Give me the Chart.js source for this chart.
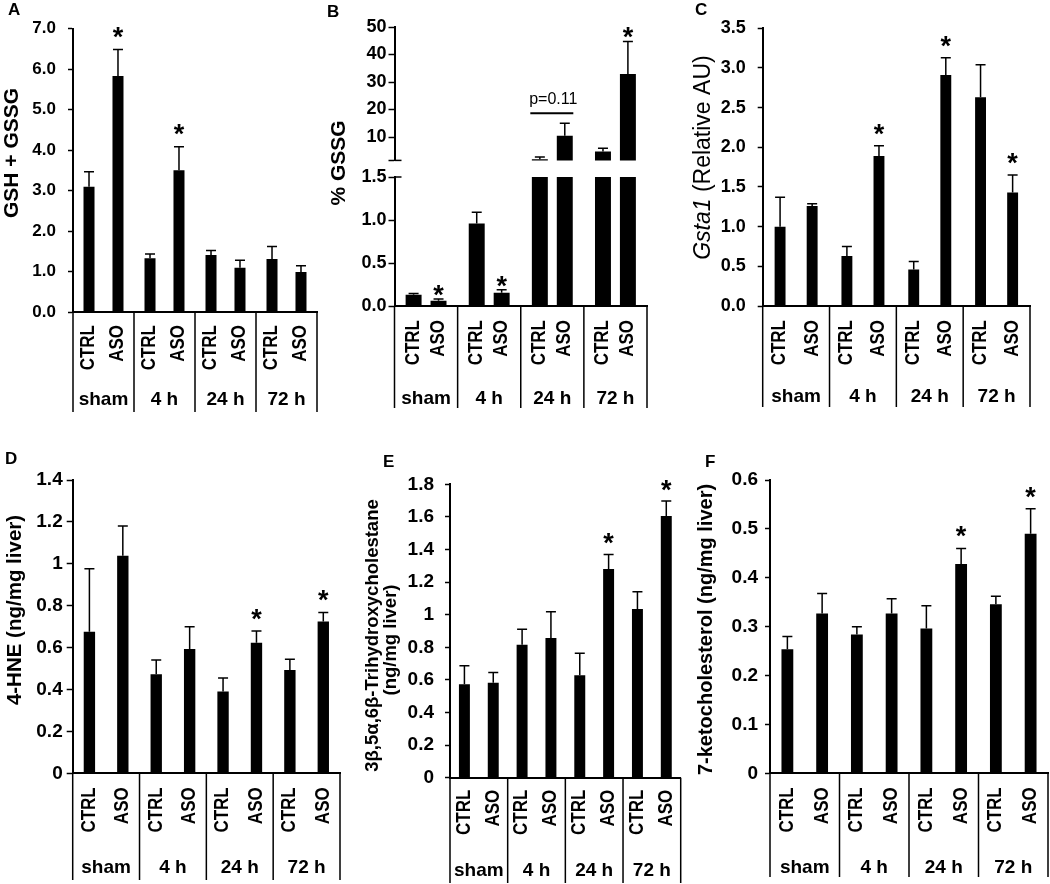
<!DOCTYPE html>
<html>
<head>
<meta charset="utf-8">
<script src="https://cdn.jsdelivr.net/npm/chart.js@4.4.1/dist/chart.umd.min.js"></script>
<style>
html,body{margin:0;padding:0;background:#fff;}
#fig{position:relative;width:1050px;height:884px;overflow:hidden;background:#fff;}
canvas{position:absolute;}
.lbl{position:absolute;z-index:5;font:bold 17px 'Liberation Sans', Arial, sans-serif;line-height:17px;color:#000;}
</style>
</head>
<body>
<div id="fig">
  <canvas id="cA" width="340" height="420" style="left:0px;top:0px"></canvas>
  <canvas id="cBhi" width="340" height="420" style="left:320px;top:0px"></canvas>
  <canvas id="cBlo" width="340" height="260" style="left:320px;top:160px"></canvas>
  <canvas id="cC" width="360" height="420" style="left:690px;top:0px"></canvas>
  <canvas id="cD" width="350" height="444" style="left:0px;top:440px"></canvas>
  <canvas id="cE" width="355" height="444" style="left:340px;top:440px"></canvas>
  <canvas id="cF" width="360" height="444" style="left:690px;top:440px"></canvas>
  <div class="lbl" style="left:8px;top:1px">A</div>
  <div class="lbl" style="left:327px;top:3px">B</div>
  <div class="lbl" style="left:695px;top:1px">C</div>
  <div class="lbl" style="left:5px;top:450px">D</div>
  <div class="lbl" style="left:383px;top:453px">E</div>
  <div class="lbl" style="left:705px;top:453px">F</div>
</div>
<script>
// ---------- data ----------
const groups = ['sham', '4 h', '24 h', '72 h'];
const treatments = ['CTRL', 'ASO'];

// A: GSH + GSSG
const aCtrl    = [3.09, 1.33, 1.41, 1.31];
const aCtrlErr = [0.37, 0.10, 0.11, 0.31];
const aAso     = [5.83, 3.50, 1.09, 0.99];
const aAsoErr  = [0.65, 0.58, 0.19, 0.15];
const aAsoStar = [true, true, false, false];
const aTicks   = [0, 1, 2, 3, 4, 5, 6, 7];

// B: % GSSG (broken axis)
const bCtrl    = [0.13, 0.96, 1.9, 4.7];
const bCtrlErr = [0.015, 0.13, 0.8, 1.2];
const bAso     = [0.06, 0.155, 10.5, 32.9];
const bAsoErr  = [0.02, 0.035, 4.5, 11.8];
const bAsoStar = [true, true, false, true];
const bLowTicks  = [0, 0.5, 1.0, 1.5];
const bHighTicks = [1.5, 10, 20, 30, 40, 50];
const bBreak = 1.5;
const bPText = 'p=0.11';
const bPLevel = 18.6;
const bPGroup = 2;

// C: Gsta1 (Relative AU)
const cCtrl    = [1.00, 0.63, 0.46, 2.63];
const cCtrlErr = [0.37, 0.12, 0.10, 0.41];
const cAso     = [1.26, 1.89, 2.91, 1.43];
const cAsoErr  = [0.03, 0.13, 0.22, 0.22];
const cAsoStar = [false, true, true, true];
const cTicks   = [0, 0.5, 1.0, 1.5, 2.0, 2.5, 3.0, 3.5];

// D: 4-HNE (ng/mg liver)
const dCtrl    = [0.676, 0.473, 0.39, 0.493];
const dCtrlErr = [0.30, 0.068, 0.065, 0.051];
const dAso     = [1.039, 0.593, 0.623, 0.724];
const dAsoErr  = [0.141, 0.107, 0.056, 0.044];
const dAsoStar = [false, false, true, true];
const dTicks   = [0, 0.2, 0.4, 0.6, 0.8, 1.0, 1.2, 1.4];

// E: 3β,5α,6β-Trihydroxycholestane (ng/mg liver)
const eCtrl    = [0.573, 0.816, 0.628, 1.035];
const eCtrlErr = [0.114, 0.094, 0.135, 0.106];
const eAso     = [0.583, 0.857, 1.28, 1.605];
const eAsoErr  = [0.063, 0.161, 0.09, 0.092];
const eAsoStar = [false, false, true, true];
const eTicks   = [0, 0.2, 0.4, 0.6, 0.8, 1.0, 1.2, 1.4, 1.6, 1.8];

// F: 7-ketocholesterol (ng/mg liver)
const fCtrl    = [0.254, 0.284, 0.296, 0.346];
const fCtrlErr = [0.026, 0.016, 0.047, 0.016];
const fAso     = [0.327, 0.327, 0.428, 0.49];
const fAsoErr  = [0.041, 0.030, 0.032, 0.051];
const fAsoStar = [false, false, true, true];
const fTicks   = [0, 0.1, 0.2, 0.3, 0.4, 0.5, 0.6];

// ---------- drawing ----------
const FONT = "'Liberation Sans', Arial, Helvetica, sans-serif";
Chart.defaults.font.family = FONT;
const CAP = 10;
const STAR_FONT = "bold 27px " + FONT;
const fmt1 = v => Number(v).toFixed(1);
const fmtTrim = v => String(parseFloat(Number(v).toFixed(2)));
const fmtInt = v => String(Math.round(v));

function rotText(c, text, x, y, font, align, thick) {
  c.save();
  c.translate(x, y);
  c.rotate(-Math.PI / 2);
  if (thick) c.scale(1, thick);
  c.font = font;
  c.textAlign = align || 'center';
  c.textBaseline = 'middle';
  c.fillText(text, 0, 0);
  c.restore();
}

function makeChart(id, p) {
  const el = document.getElementById(id);
  const vals = [p.ctrl, p.aso];
  const errs = [p.ctrlErr, p.asoErr];
  const stars = [groups.map(() => false), p.asoStar];
  const extra = {
    id: 'extra_' + id,
    afterDatasetsDraw(chart) {
      const c = chart.ctx, ys = chart.scales.y, xs = chart.scales.x, ca = chart.chartArea;
      c.save();
      c.strokeStyle = '#000'; c.fillStyle = '#000'; c.lineWidth = 1.5;
      for (let d = 0; d < 2; d++) {
        const meta = chart.getDatasetMeta(d);
        meta.data.forEach((bar, i) => {
          const v = vals[d][i];
          if (v <= ys.min || v > ys.max) return;
          const top = v + errs[d][i];
          const x = bar.x, y0 = ys.getPixelForValue(v), y1 = ys.getPixelForValue(top);
          c.beginPath();
          c.moveTo(x, y0); c.lineTo(x, y1);
          c.moveTo(x - CAP / 2, y1); c.lineTo(x + CAP / 2, y1);
          c.stroke();
          if (stars[d][i]) {
            c.font = STAR_FONT; c.textAlign = 'center'; c.textBaseline = 'alphabetic';
            const m = c.measureText('*');
            c.fillText('*', x, y1 - p.starGap - m.actualBoundingBoxDescent);
          }
        });
      }
      if (p.xHeight) {
        for (let d = 0; d < 2; d++) {
          chart.getDatasetMeta(d).data.forEach(bar => {
            rotText(c, treatments[d], bar.x, ca.bottom + p.catOffset, 'bold ' + p.catSize + 'px ' + FONT, 'right', 1.15);
          });
        }
        c.font = 'bold ' + p.grpSize + 'px ' + FONT;
        c.textAlign = 'center'; c.textBaseline = 'middle';
        groups.forEach((g, i) => c.fillText(g, xs.getPixelForValue(i), p.grpY));
        const step = (ca.right - ca.left) / groups.length;
        c.lineWidth = 1.5;
        c.beginPath();
        for (let i = 0; i <= groups.length; i++) {
          const x = ca.left + i * step;
          c.moveTo(x, ca.bottom); c.lineTo(x, p.boxBottom);
        }
        c.stroke();
      }
      if (p.extraDraw) p.extraDraw(c, chart);
      if (p.title) p.title(c, chart);
      c.restore();
    }
  };
  return new Chart(el, {
    type: 'bar',
    data: {
      labels: groups,
      datasets: [
        { label: treatments[0], data: p.ctrl, backgroundColor: '#000', borderWidth: 0,
          categoryPercentage: p.catPct, barPercentage: p.barPct },
        { label: treatments[1], data: p.aso, backgroundColor: '#000', borderWidth: 0,
          categoryPercentage: p.catPct, barPercentage: p.barPct }
      ]
    },
    options: {
      responsive: false, animation: false, devicePixelRatio: 1,
      layout: { padding: { left: 0, right: p.padRight, top: p.padTop, bottom: p.padBottom || 0 } },
      plugins: { legend: { display: false }, tooltip: { enabled: false } },
      scales: {
        x: {
          display: p.xHeight ? true : false,
          grid: { display: false, drawTicks: false },
          ticks: { display: false },
          border: { display: true, color: '#000', width: 2 },
          afterFit: s => { s.height = p.xHeight || 0; }
        },
        y: {
          min: p.min, max: p.max,
          afterBuildTicks: s => { s.ticks = p.ticks.map(v => ({ value: v })); },
          afterFit: s => { s.width = p.yWidth; },
          grid: { display: true, drawOnChartArea: false, drawTicks: true, tickLength: p.tickLen,
                  tickWidth: 1.5, tickColor: '#000', color: '#000' },
          border: { display: true, color: '#000', width: 2 },
          ticks: { padding: p.tickPad, color: '#000',
                   font: { family: FONT, weight: 'bold', size: p.tickSize },
                   callback: v => p.fmt(v) }
        }
      }
    },
    plugins: [extra]
  });
}

// Panel A
makeChart('cA', {
  ctrl: aCtrl, ctrlErr: aCtrlErr, aso: aAso, asoErr: aAsoErr, asoStar: aAsoStar,
  min: 0, max: 7, ticks: aTicks, fmt: fmt1,
  yWidth: 73, padRight: 23, padTop: 28.5, xHeight: 108,
  tickSize: 17, tickPad: 12, tickLen: 5, catPct: 0.95, barPct: 0.38,
  starGap: 12, catOffset: 13, catSize: 17, grpSize: 19, grpY: 400, boxBottom: 412,
  title: c => { c.fillStyle = '#000'; rotText(c, 'GSH + GSSG', 12.5, 153, 'bold 21px ' + FONT); }
});

// Panel B (upper part)
makeChart('cBhi', {
  ctrl: bCtrl, ctrlErr: bCtrlErr, aso: bAso, asoErr: bAsoErr, asoStar: bAsoStar,
  min: bBreak, max: 50, ticks: bHighTicks, fmt: v => (v === bBreak ? '' : fmtInt(v)),
  yWidth: 74.5, padRight: 13, padTop: 27, padBottom: 259.6, xHeight: 0,
  tickSize: 18, tickPad: 2, tickLen: 6, catPct: 0.79, barPct: 0.64, starGap: 4,
  extraDraw: (c, chart) => {
    const ca = chart.chartArea, xs = chart.scales.x, ys = chart.scales.y;
    c.lineWidth = 1.5; c.strokeStyle = '#000';
    c.beginPath(); c.moveTo(ca.left, ca.bottom); c.lineTo(ca.left + 7, ca.bottom); c.stroke();
    const gx = xs.getPixelForValue(bPGroup), py = ys.getPixelForValue(bPLevel);
    c.lineWidth = 2;
    c.beginPath(); c.moveTo(gx - 22, py); c.lineTo(gx + 21, py); c.stroke();
    c.fillStyle = '#000'; c.font = '16px ' + FONT; c.textAlign = 'center'; c.textBaseline = 'alphabetic';
    c.fillText(bPText, gx + 1, py - 9);
  },
  title: c => { c.fillStyle = '#000'; rotText(c, '% GSSG', 19, 163, 'bold 21px ' + FONT); }
});

// Panel B (lower part)
makeChart('cBlo', {
  ctrl: bCtrl, ctrlErr: bCtrlErr, aso: bAso, asoErr: bAsoErr, asoStar: bAsoStar,
  min: 0, max: bBreak, ticks: bLowTicks, fmt: fmt1,
  yWidth: 74.5, padRight: 13, padTop: 17, xHeight: 114,
  tickSize: 18, tickPad: 2, tickLen: 6, catPct: 0.79, barPct: 0.64, starGap: 3,
  catOffset: 14, catSize: 17, grpSize: 19, grpY: 238.5, boxBottom: 248,
  extraDraw: (c, chart) => {
    const ca = chart.chartArea;
    c.lineWidth = 1.5; c.strokeStyle = '#000';
    c.beginPath(); c.moveTo(ca.left, ca.top); c.lineTo(ca.left + 7, ca.top); c.stroke();
  }
});

// Panel C
makeChart('cC', {
  ctrl: cCtrl, ctrlErr: cCtrlErr, aso: cAso, asoErr: cAsoErr, asoStar: cAsoStar,
  min: 0, max: 3.5, ticks: cTicks, fmt: fmt1,
  yWidth: 72.7, padRight: 20, padTop: 28.3, xHeight: 114,
  tickSize: 18, tickPad: 12, tickLen: 5, catPct: 0.96, barPct: 0.34,
  starGap: 11, catOffset: 14, catSize: 17, grpSize: 19, grpY: 396.5, boxBottom: 407,
  title: c => {
    c.save();
    c.fillStyle = '#000';
    c.translate(13.5, 157.6);
    c.rotate(-Math.PI / 2);
    c.textBaseline = 'middle'; c.textAlign = 'left';
    const f1 = 'italic 23px ' + FONT, f2 = '23px ' + FONT;
    const t1 = 'Gsta1', t2 = ' (Relative AU)';
    c.font = f1; const w1 = c.measureText(t1).width;
    c.font = f2; const w2 = c.measureText(t2).width;
    const x0 = -(w1 + w2) / 2;
    c.font = f1; c.fillText(t1, x0, 0);
    c.font = f2; c.fillText(t2, x0 + w1, 0);
    c.restore();
  }
});

// Panel D
makeChart('cD', {
  ctrl: dCtrl, ctrlErr: dCtrlErr, aso: dAso, asoErr: dAsoErr, asoStar: dAsoStar,
  min: 0, max: 1.4, ticks: dTicks, fmt: fmtTrim,
  yWidth: 72.7, padRight: 10, padTop: 40, xHeight: 110.7,
  tickSize: 19, tickPad: 4, tickLen: 6, catPct: 1.0, barPct: 0.34,
  starGap: 11, catOffset: 14, catSize: 17, grpSize: 19, grpY: 428, boxBottom: 440,
  title: c => { c.fillStyle = '#000'; rotText(c, '4-HNE (ng/mg liver)', 15, 170, 'bold 20.5px ' + FONT); }
});

// Panel E
makeChart('cE', {
  ctrl: eCtrl, ctrlErr: eCtrlErr, aso: eAso, asoErr: eAsoErr, asoStar: eAsoStar,
  min: 0, max: 1.8, ticks: eTicks, fmt: fmtTrim,
  yWidth: 110, padRight: 14.3, padTop: 44.3, xHeight: 106.3,
  tickSize: 19, tickPad: 11, tickLen: 5, catPct: 1.0, barPct: 0.38,
  starGap: 10, catOffset: 12, catSize: 17, grpSize: 19, grpY: 431, boxBottom: 443,
  title: c => {
    c.fillStyle = '#000';
    rotText(c, '3β,5α,6β-Trihydroxycholestane', 32.5, 195.5, 'bold 18.5px ' + FONT);
    rotText(c, '(ng/mg liver)', 50.5, 200, 'bold 18.5px ' + FONT);
  }
});

// Panel F
makeChart('cF', {
  ctrl: fCtrl, ctrlErr: fCtrlErr, aso: fAso, asoErr: fAsoErr, asoStar: fAsoStar,
  min: 0, max: 0.6, ticks: fTicks, fmt: fmtTrim,
  yWidth: 80, padRight: 2, padTop: 40, xHeight: 110.7,
  tickSize: 19, tickPad: 7, tickLen: 5, catPct: 1.0, barPct: 0.34,
  starGap: 11, catOffset: 14, catSize: 17, grpSize: 19, grpY: 427.5, boxBottom: 437,
  title: c => { c.fillStyle = '#000'; rotText(c, '7-ketocholesterol (ng/mg liver)', 16, 189.5, 'bold 20px ' + FONT); }
});
</script>
</body>
</html>
